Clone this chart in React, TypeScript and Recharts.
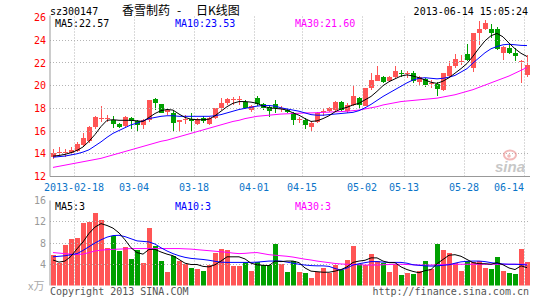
import React from 'react';
import { ComposedChart, Bar, Line, XAxis, YAxis, ReferenceLine } from 'recharts';

// trading days shown (MM-DD)
const dates = [
  '02-05', '02-06', '02-07', '02-08', '02-18', '02-19', '02-20', '02-21', '02-22', '02-25',
  '02-26', '02-27', '02-28', '03-01', '03-04', '03-05', '03-06', '03-07', '03-08', '03-11',
  '03-12', '03-13', '03-14', '03-15', '03-18', '03-19', '03-20', '03-21', '03-22', '03-25',
  '03-26', '03-27', '03-28', '03-29', '04-01', '04-02', '04-03', '04-08', '04-09', '04-10',
  '04-11', '04-12', '04-15', '04-16', '04-17', '04-18', '04-19', '04-22', '04-23', '04-24',
  '04-25', '04-26', '05-02', '05-03', '05-06', '05-07', '05-08', '05-09', '05-10', '05-13',
  '05-14', '05-15', '05-16', '05-17', '05-20', '05-21', '05-23', '05-24', '05-27', '05-28',
  '05-29', '05-30', '05-31', '06-03', '06-04', '06-05', '06-06', '06-07', '06-13', '06-14',
];

const opens = [
  13.75, 14.1, 14.1, 14.05, 14.25, 14.8, 15.1, 16.35, 17.05, 17.05,
  17.0, 16.6, 16.45, 17.15, 16.85, 16.5, 17.0, 18.8, 18.35, 17.7,
  17.6, 16.8, 17.0, 17.1, 16.6, 17.15, 16.65, 17.15, 18.0, 18.45,
  18.7, 18.7, 18.6, 17.9, 18.9, 18.4, 18.1, 18.4, 17.95, 17.9,
  17.6, 16.95, 16.95, 16.4, 16.8, 17.7, 17.8, 17.9, 18.6, 17.75,
  18.3, 18.9, 18.25, 19.8, 20.45, 20.8, 20.4, 20.75, 21.15, 21.0,
  21.1, 20.35, 20.6, 20.2, 20.15, 19.6, 20.85, 21.7, 22.1, 22.8,
  21.6, 24.6, 25.0, 25.0, 24.95, 22.9, 23.3, 22.9, 22.15, 20.95,
];
const closes = [
  14.05, 14.2, 14.2, 14.3, 14.9, 15.35, 16.35, 17.25, 17.15, 17.15,
  16.6, 16.4, 17.2, 16.9, 16.55, 17.0, 18.7, 18.5, 17.6, 17.9,
  16.75, 16.95, 17.1, 16.85, 17.05, 16.85, 17.15, 18.0, 18.5, 18.85,
  18.8, 18.8, 18.0, 18.2, 18.4, 18.05, 17.75, 18.05, 18.05, 17.65,
  16.95, 17.05, 16.5, 16.7, 17.6, 17.75, 18.0, 18.6, 17.9, 18.3,
  19.1, 18.3, 19.8, 20.5, 20.9, 20.3, 20.8, 21.25, 21.05, 21.1,
  20.4, 20.75, 20.05, 20.25, 19.75, 21.1, 21.7, 22.35, 22.15, 22.25,
  24.6, 24.95, 25.55, 24.65, 23.2, 23.4, 22.9, 22.6, 22.2, 21.85,
];
const highs = [
  14.4, 14.6, 14.4, 14.6, 15.0, 15.85, 16.45, 17.3, 18.25, 17.45,
  17.35, 16.75, 17.3, 17.25, 17.0, 17.05, 18.7, 18.9, 18.4, 18.05,
  17.75, 17.0, 17.45, 17.6, 17.15, 17.3, 17.2, 18.05, 18.9, 18.95,
  19.0, 19.1, 18.7, 18.3, 19.05, 18.5, 18.3, 18.7, 18.2, 18.0,
  17.65, 17.25, 17.15, 16.85, 17.65, 18.0, 18.1, 18.65, 18.65, 18.5,
  19.95, 19.0, 19.8, 21.1, 21.7, 20.85, 20.85, 21.7, 21.4, 21.25,
  21.25, 20.85, 20.65, 20.5, 20.35, 21.15, 22.2, 22.75, 22.7, 23.7,
  24.65, 25.7, 25.8, 25.4, 25.2, 23.45, 23.7, 23.3, 22.25, 22.7,
];
const lows = [
  13.5, 13.85, 13.75, 13.85, 14.2, 14.7, 14.95, 16.2, 16.8, 16.8,
  16.3, 16.25, 16.35, 16.15, 16.0, 16.2, 16.8, 17.9, 17.55, 17.4,
  16.0, 15.95, 16.6, 16.0, 16.5, 16.7, 16.55, 17.1, 17.9, 18.3,
  18.3, 18.3, 17.95, 17.7, 18.2, 17.9, 17.25, 17.6, 17.7, 17.55,
  16.55, 16.7, 16.2, 16.05, 16.75, 17.35, 17.7, 17.8, 17.75, 17.6,
  18.2, 18.0, 18.2, 19.65, 20.4, 20.2, 20.3, 20.7, 20.8, 20.7,
  20.25, 20.1, 19.9, 19.8, 19.05, 19.5, 20.8, 21.55, 21.85, 22.15,
  21.2, 23.6, 24.9, 24.2, 23.1, 22.25, 22.8, 22.15, 20.25, 20.8,
];
// volume in 万手
const volumes = [
  5.7, 4.3, 7.6, 8.7, 8.9, 11.7, 11.9, 13.6, 12.3, 7.0,
  9.25, 6.5, 7.25, 5.0, 6.65, 4.2, 10.8, 7.45, 4.6, 2.6,
  5.5, 4.6, 4.1, 3.3, 3.15, 2.8, 3.85, 6.15, 6.8, 6.65,
  3.7, 3.7, 4.35, 2.7, 4.35, 3.85, 3.85, 7.9, 4.0, 2.6,
  4.6, 2.6, 2.4, 1.5, 2.6, 3.35, 2.4, 3.85, 2.9, 4.8,
  7.45, 4.0, 3.85, 5.9, 4.6, 4.3, 2.6, 4.0, 2.0, 2.4,
  2.2, 2.7, 4.6, 3.2, 7.9, 6.65, 6.1, 4.2, 2.7, 4.7,
  4.35, 4.6, 3.3, 3.2, 5.4, 2.75, 2.3, 2.25, 6.8, 4.4,
];

// moving averages as drawn on the chart
const ma5 = [
  13.8, 13.85, 13.95, 14.1, 14.3, 14.6, 15.1, 15.7, 16.4, 16.95,
  17.0, 16.95, 16.95, 16.95, 16.9, 16.85, 17.2, 17.55, 17.8, 17.9,
  17.85, 17.5, 17.2, 17.05, 17.0, 17.0, 17.05, 17.35, 17.75, 18.15,
  18.45, 18.6, 18.6, 18.55, 18.45, 18.2, 18.05, 18.0, 17.95, 17.85,
  17.6, 17.4, 17.1, 16.85, 16.9, 17.1, 17.35, 17.7, 17.95, 18.1,
  18.3, 18.45, 18.75, 19.05, 19.5, 20.0, 20.35, 20.6, 20.85, 20.95,
  20.85, 20.7, 20.5, 20.3, 20.2, 20.4, 20.7, 21.1, 21.5, 21.95,
  22.6, 23.3, 23.95, 24.4, 24.6, 24.3, 23.75, 23.25, 22.85, 22.57,
];
const ma10 = [
  13.7, 13.75, 13.8, 13.9, 14.0, 14.15, 14.35, 14.7, 15.05, 15.45,
  15.8, 16.05, 16.3, 16.55, 16.7, 16.9, 17.1, 17.2, 17.3, 17.35,
  17.35, 17.3, 17.3, 17.3, 17.3, 17.3, 17.3, 17.35, 17.45, 17.6,
  17.75, 17.9, 18.0, 18.1, 18.2, 18.25, 18.25, 18.2, 18.05, 17.95,
  17.85, 17.75, 17.6, 17.45, 17.4, 17.4, 17.45, 17.5, 17.55, 17.6,
  17.65, 17.8, 18.05, 18.35, 18.7, 19.05, 19.35, 19.65, 19.95, 20.25,
  20.5, 20.65, 20.7, 20.65, 20.6, 20.65, 20.75, 20.9, 21.2, 21.5,
  22.0, 22.45, 22.9, 23.25, 23.45, 23.6, 23.65, 23.6, 23.55, 23.53,
];
const ma30 = [
  12.8, 12.9, 13.0, 13.1, 13.2, 13.3, 13.4, 13.5, 13.6, 13.75,
  13.9, 14.05, 14.2, 14.35, 14.5, 14.65, 14.8, 14.95, 15.1, 15.2,
  15.35, 15.5, 15.65, 15.8, 15.95, 16.1, 16.25, 16.4, 16.55, 16.7,
  16.85, 16.95, 17.1, 17.2, 17.3, 17.35, 17.4, 17.45, 17.5, 17.52,
  17.55, 17.57, 17.6, 17.6, 17.62, 17.65, 17.67, 17.7, 17.72, 17.75,
  17.8, 17.85, 17.95, 18.05, 18.15, 18.3, 18.4, 18.5, 18.6, 18.65,
  18.7, 18.75, 18.8, 18.85, 18.9, 19.0, 19.1, 19.2, 19.35, 19.5,
  19.65, 19.85, 20.05, 20.25, 20.45, 20.65, 20.85, 21.1, 21.35, 21.6,
];
const volMa5 = [
  4.8, 4.4, 4.6, 5.5, 6.9, 8.2, 9.8, 11.0, 11.65, 11.3,
  10.8, 9.9, 8.6, 7.1, 6.2, 5.9, 6.8, 6.8, 6.3, 5.9,
  5.6, 4.9, 4.2, 3.95, 3.95, 3.6, 3.5, 3.9, 4.6, 5.4,
  5.4, 5.4, 5.0, 4.2, 3.9, 3.8, 3.75, 4.6, 4.5, 4.6,
  4.6, 4.3, 3.3, 2.7, 2.6, 2.5, 2.5, 2.7, 3.0, 3.5,
  4.35, 4.6, 4.75, 5.2, 5.2, 4.6, 4.3, 4.3, 3.5, 3.0,
  2.65, 2.4, 2.8, 3.0, 4.1, 4.9, 5.7, 5.8, 5.5, 4.9,
  4.3, 4.1, 4.1, 4.0, 4.3, 3.9, 3.3, 3.0, 3.7, 3.35,
];
const volMa10 = [
  5.4, 5.5, 5.6, 5.8, 6.0, 6.6, 7.3, 8.0, 8.6, 9.1,
  9.4, 9.45, 9.2, 8.8, 8.4, 8.3, 8.2, 7.8, 7.1, 6.5,
  6.0, 5.6, 5.3, 5.1, 5.0, 4.9, 4.75, 4.55, 4.4, 4.35,
  4.35, 4.35, 4.35, 4.35, 4.4, 4.5, 4.6, 4.6, 4.6, 4.4,
  4.2, 4.0, 3.85, 3.75, 3.7, 3.7, 3.6, 3.2, 2.9, 3.3,
  3.85, 4.1, 4.3, 4.5, 4.5, 4.4, 4.35, 4.35, 4.35, 4.2,
  3.9, 3.8, 3.7, 3.65, 3.7, 3.8, 3.9, 4.2, 4.45, 4.55,
  4.6, 4.6, 4.5, 4.3, 4.15, 4.05, 4.0, 4.0, 3.95, 3.85,
];
const volMa30 = [
  6.2, 6.1, 6.0, 5.9, 5.85, 5.9, 6.2, 6.5, 6.65, 6.75,
  6.8, 6.85, 6.9, 6.95, 6.95, 6.95, 6.95, 6.95, 6.95, 6.95,
  6.95, 6.95, 6.9, 6.85, 6.75, 6.65, 6.55, 6.45, 6.35, 6.25,
  6.1, 6.0, 6.05, 6.15, 6.2, 6.0, 5.8, 5.7, 5.6, 5.5,
  5.35, 5.15, 4.95, 4.8, 4.6, 4.45, 4.3, 4.15, 4.05, 4.0,
  3.95, 3.9, 3.85, 3.85, 3.85, 3.9, 3.95, 4.0, 4.0, 3.95,
  3.9, 3.85, 3.85, 3.85, 3.9, 3.95, 4.0, 4.0, 4.0, 4.0,
  4.0, 4.0, 4.0, 4.0, 4.0, 4.0, 4.0, 4.0, 4.0, 4.0,
];

const labelDates = ['02-18', '03-04', '03-18', '04-01', '04-15', '05-02', '05-13', '05-28', '06-14'];
const labelTexts = ['2013-02-18', '03-04', '03-18', '04-01', '04-15', '05-02', '05-13', '05-28', '06-14'];
const priceTicks = [12, 14, 16, 18, 20, 22, 24, 26];
const priceGrid = [14, 16, 18, 20, 22, 24];
const volTicks = [4, 8, 12, 16];
const volGrid = [4, 8, 12];

const rows = dates.map((d, i) => ({
  d,
  o: opens[i],
  c: closes[i],
  h: highs[i],
  l: lows[i],
  range: [lows[i], highs[i]],
  v: volumes[i],
  ma5: ma5[i],
  ma10: ma10[i],
  ma30: ma30[i],
  vma5: volMa5[i],
  vma10: volMa10[i],
  vma30: volMa30[i],
}));

const RED = '#ff5555';
const GREEN = '#00a000';
const BORDER = '#999999';
const GRID = '#b4b4b4';
const MONO = '"DejaVu Sans Mono", monospace';

function Candle(props: any) {
  const { x, y, width, height, payload } = props;
  const top = Math.min(y, y + height);
  const bottom = Math.max(y, y + height);
  const span = payload.h - payload.l;
  const toY = (v: number) => (span > 0 ? top + ((payload.h - v) / span) * (bottom - top) : top);
  const color = payload.c >= payload.o ? RED : GREEN;
  const left = Math.floor(x);
  const w = Math.round(width);
  const cx = left + Math.floor(w / 2) + 0.5;
  const by = Math.round(toY(Math.max(payload.o, payload.c)));
  const bh = Math.max(1, Math.round(toY(Math.min(payload.o, payload.c))) - by);
  return (
    <g>
      <line x1={cx} x2={cx} y1={Math.round(top)} y2={Math.round(bottom)} stroke={color} />
      <rect x={left} y={by} width={w} height={bh} fill={color} />
    </g>
  );
}

function VolBar(props: any) {
  const { x, y, width, height, payload } = props;
  const top = Math.round(y);
  return (
    <rect
      x={Math.floor(x)}
      y={top}
      width={Math.round(width)}
      height={Math.max(0, Math.round(y + height) - top)}
      fill={payload.c >= payload.o ? RED : GREEN}
    />
  );
}

function DateTick(props: any) {
  const { x, y, payload } = props;
  const k = labelDates.indexOf(payload.value);
  if (k < 0) return <g />;
  const last = k === labelDates.length - 1;
  return (
    <text
      x={x - 3}
      y={y}
      dy={8}
      textAnchor={last ? 'end' : 'middle'}
      fill="#0a74c8"
      fontSize={10}
      fontFamily={MONO}
    >
      {labelTexts[k]}
    </text>
  );
}

const crisp = (v: number) => Math.floor(v) + 0.5;
function GridLine(props: any) {
  const { x1, y1, x2, y2 } = props;
  const vertical = Math.abs(x1 - x2) < 0.01;
  return (
    <line
      x1={vertical ? crisp(x1) : x1}
      x2={vertical ? crisp(x2) : x2}
      y1={vertical ? y1 : crisp(y1)}
      y2={vertical ? y2 : crisp(y2)}
      stroke={GRID}
      strokeDasharray="1 2"
    />
  );
}

export default function App() {
  return (
    <div style={{ position: 'relative', width: 545, height: 300, background: '#fff', overflow: 'hidden' }}>
      <style>{'body{margin:0}'}</style>

      <div style={{ position: 'absolute', left: 0, top: 0 }}>
        <ComposedChart
          width={545}
          height={196.5}
          data={rows}
          margin={{ top: 15.5, right: 15, bottom: 0, left: 0 }}
          barCategoryGap={0}
        >
          <XAxis
            dataKey="d"
            interval={0}
            tick={<DateTick />}
            tickLine={false}
            tickSize={4}
            tickMargin={2}
            height={20}
            axisLine={{ stroke: BORDER }}
          />
          <XAxis xAxisId="top" dataKey="d" orientation="top" height={0} tick={false} tickLine={false} axisLine={{ stroke: BORDER }} />
          <YAxis
            domain={[12, 26.18]}
            ticks={priceTicks}
            allowDataOverflow
            interval={0}
            width={50}
            tickLine={false}
            tickSize={4}
            tickMargin={0}
            axisLine={{ stroke: BORDER }}
            tick={{ fill: '#ff0000', fontSize: 10, fontFamily: MONO }}
          />
          <YAxis yAxisId="r" orientation="right" width={0} domain={[0, 1]} tick={false} tickLine={false} axisLine={{ stroke: BORDER }} />
          {priceGrid.map((v) => (
            <ReferenceLine key={'h' + v} y={v} shape={<GridLine />} />
          ))}
          {labelDates.map((d) => (
            <ReferenceLine key={'v' + d} x={d} position="start" shape={<GridLine />} />
          ))}
          <Bar dataKey="range" barSize={5} shape={<Candle />} isAnimationActive={false} />
          <Line dataKey="ma30" stroke="#ff00ff" strokeWidth={1} dot={false} activeDot={false} isAnimationActive={false} />
          <Line dataKey="ma10" stroke="#0000ff" strokeWidth={1} dot={false} activeDot={false} isAnimationActive={false} />
          <Line dataKey="ma5" stroke="#000000" strokeWidth={1} dot={false} activeDot={false} isAnimationActive={false} />
        </ComposedChart>
      </div>

      <div style={{ position: 'absolute', left: 0, top: 185 }}>
        <ComposedChart
          width={545}
          height={115}
          data={rows}
          margin={{ top: 15.5, right: 15, bottom: 14.5, left: 0 }}
          barCategoryGap={0}
        >
          <XAxis dataKey="d" height={0} tick={false} tickLine={false} axisLine={{ stroke: BORDER }} />
          <XAxis xAxisId="top" dataKey="d" orientation="top" height={0} tick={false} tickLine={false} axisLine={{ stroke: BORDER }} />
          <YAxis
            domain={[0, 16]}
            ticks={volTicks}
            allowDataOverflow
            interval={0}
            width={50}
            tickLine={false}
            tickSize={4}
            tickMargin={0}
            axisLine={{ stroke: BORDER }}
            tick={{ fill: '#999999', fontSize: 10, fontFamily: MONO }}
          />
          <YAxis yAxisId="r" orientation="right" width={0} domain={[0, 1]} tick={false} tickLine={false} axisLine={{ stroke: BORDER }} />
          {volGrid.map((v) => (
            <ReferenceLine key={'h' + v} y={v} shape={<GridLine />} />
          ))}
          {labelDates.map((d) => (
            <ReferenceLine key={'v' + d} x={d} position="start" shape={<GridLine />} />
          ))}
          <Bar dataKey="v" barSize={5} shape={<VolBar />} isAnimationActive={false} />
          <Line dataKey="vma30" stroke="#ff00ff" strokeWidth={1} dot={false} activeDot={false} isAnimationActive={false} />
          <Line dataKey="vma10" stroke="#0000ff" strokeWidth={1} dot={false} activeDot={false} isAnimationActive={false} />
          <Line dataKey="vma5" stroke="#000000" strokeWidth={1} dot={false} activeDot={false} isAnimationActive={false} />
        </ComposedChart>
      </div>

      <svg width={545} height={300} style={{ position: 'absolute', left: 0, top: 0, pointerEvents: 'none' }}>
        <g fontFamily={MONO} fontSize={10}>
          <text x={50} y={14.5} fill="#000">sz300147</text>
          <text x={528} y={14.5} fill="#000" textAnchor="end">2013-06-14 15:05:24</text>
          <text x={55} y={27} fill="#000">MA5:22.57</text>
          <text x={175} y={27} fill="#0000ff">MA10:23.53</text>
          <text x={295} y={27} fill="#ff00ff">MA30:21.60</text>
          <text x={55} y={210} fill="#000">MA5:3</text>
          <text x={175} y={210} fill="#0000ff">MA10:3</text>
          <text x={295} y={210} fill="#ff00ff">MA30:3</text>
          <text x={50} y={295} fill="#555">Copyright 2013 SINA.COM</text>
          <text x={529} y={295} fill="#555" textAnchor="end">http://finance.sina.com.cn</text>
        </g>
        <g fontFamily='"Noto Sans CJK SC", sans-serif' fontSize={12} fill="#000">
          <text x={122} y={15}>香雪制药</text>
          <text x={177} y={15}>-</text>
          <text x={196} y={15}>日K线图</text>
        </g>
        <text x={28} y={290} fill="#aaaaaa" fontSize={11} fontFamily='"Noto Sans CJK SC", sans-serif'>x万</text>
        <g opacity={0.55}>
          <ellipse cx={510} cy={155} rx={6} ry={4.5} fill="none" stroke="#e88080" strokeWidth={2} />
          <circle cx={509} cy={156} r={1.8} fill="#e88080" />
          <text x={495} y={172} fill="#9a9a9a" fontSize={15} fontStyle="italic" fontWeight="bold" fontFamily='"Liberation Sans", sans-serif'>sina</text>
        </g>
      </svg>
    </div>
  );
}
